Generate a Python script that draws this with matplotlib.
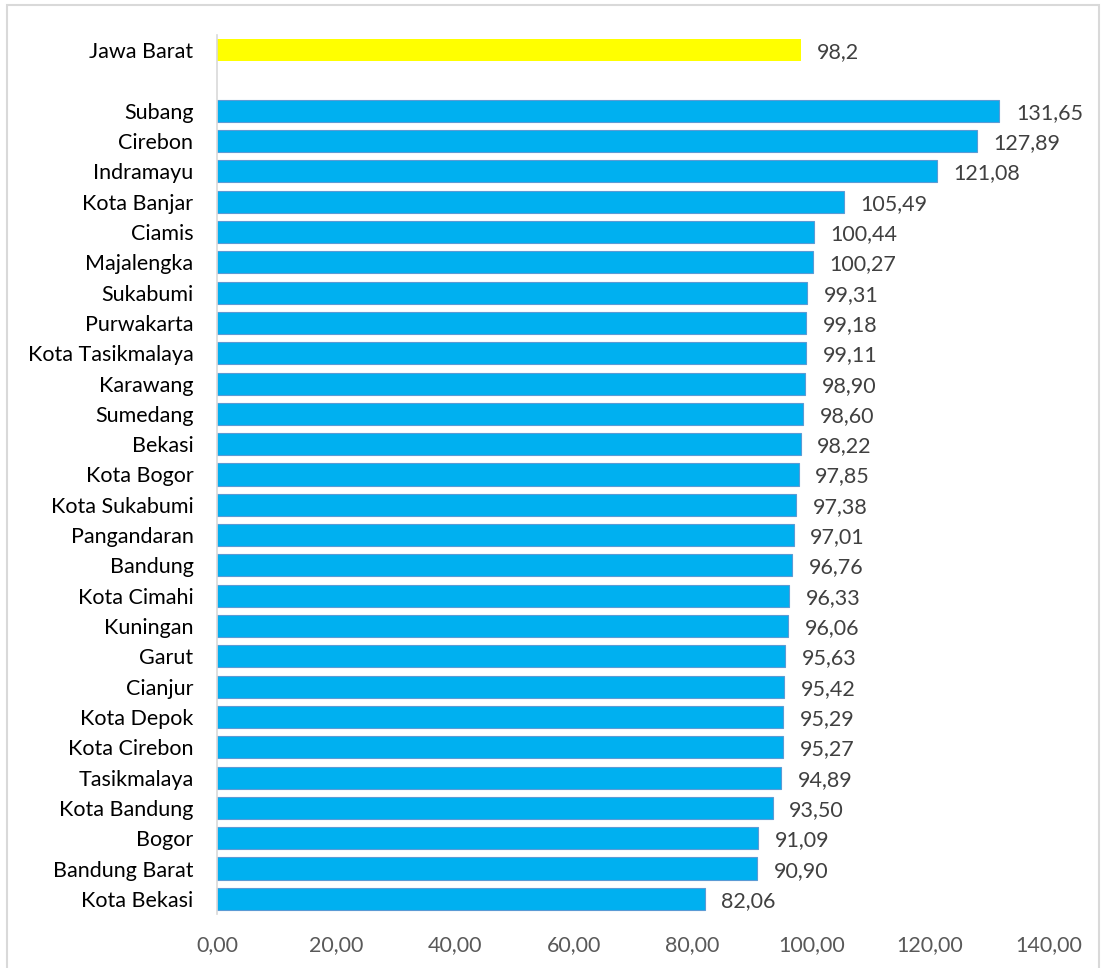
import matplotlib.pyplot as plt
from matplotlib.patches import Rectangle

# Data
PROVINCE = "Jawa Barat"
PROVINCE_VALUE = 98.2
PROVINCE_LABEL = "98,2"

REGIONS = [
    "Subang", "Cirebon", "Indramayu", "Kota Banjar", "Ciamis", "Majalengka",
    "Sukabumi", "Purwakarta", "Kota Tasikmalaya", "Karawang", "Sumedang",
    "Bekasi", "Kota Bogor", "Kota Sukabumi", "Pangandaran", "Bandung",
    "Kota Cimahi", "Kuningan", "Garut", "Cianjur", "Kota Depok",
    "Kota Cirebon", "Tasikmalaya", "Kota Bandung", "Bogor", "Bandung Barat",
    "Kota Bekasi",
]
VALUES = [
    131.65, 127.89, 121.08, 105.49, 100.44, 100.27, 99.31, 99.18, 99.11,
    98.90, 98.60, 98.22, 97.85, 97.38, 97.01, 96.76, 96.33, 96.06, 95.63,
    95.42, 95.29, 95.27, 94.89, 93.50, 91.09, 90.90, 82.06,
]
X_TICKS = [0, 20, 40, 60, 80, 100, 120, 140]

BLUE = "#00B0F0"
BLUE_EDGE = "#5B9BD5"
YELLOW = "#FFFF00"
FONT = ["Lato", "DejaVu Sans"]
FS = 15.5

plt.rcParams["font.family"] = FONT


def fmt(v):
    return f"{v:.2f}".replace(".", ",")


fig = plt.figure(figsize=(11.05, 9.68), dpi=100)
ax = fig.add_axes([217 / 1105, 1 - 914 / 968, (1049 - 217) / 1105, (914 - 35) / 968])

# slot 0 = province, slot 1 = empty gap, slots 2.. = regions
n = len(REGIONS)
ypos = list(range(2, 2 + n))
bar_h = 0.73

ax.barh(ypos, VALUES, height=bar_h, color=BLUE, edgecolor=BLUE_EDGE, linewidth=0.8)
ax.barh([0], [PROVINCE_VALUE], height=bar_h, color=YELLOW, edgecolor="none")

for y, v in zip(ypos, VALUES):
    ax.annotate(fmt(v), (v, y), xytext=(12, -1.5), textcoords="offset points",
                va="center", ha="left", fontsize=FS, color="#404040")
ax.annotate(PROVINCE_LABEL, (PROVINCE_VALUE, 0), xytext=(12, -1.5),
            textcoords="offset points", va="center", ha="left",
            fontsize=FS, color="#404040")

ax.set_yticks([0] + ypos)
ax.set_yticklabels([PROVINCE] + REGIONS, fontsize=FS, color="#000000")
ax.set_ylim(n + 1.5, -0.5)
ax.set_xlim(0, 140)
ax.set_xticks(X_TICKS)
ax.set_xticklabels([fmt(t) for t in X_TICKS], fontsize=FS, color="#595959")
ax.tick_params(axis="y", length=0, pad=17)
ax.tick_params(axis="x", length=0, pad=15)

for side in ["top", "right", "bottom"]:
    ax.spines[side].set_visible(False)
ax.spines["left"].set_color("#D9D9D9")
ax.spines["left"].set_linewidth(1.2)

# chart-area border
fig.patches.append(Rectangle((7 / 1105, -0.01), 1092 / 1105, 1 - 5 / 968 + 0.01,
                             transform=fig.transFigure, fill=False,
                             edgecolor="#D9D9D9", linewidth=1.5))

fig.savefig("out.png", dpi=100)
